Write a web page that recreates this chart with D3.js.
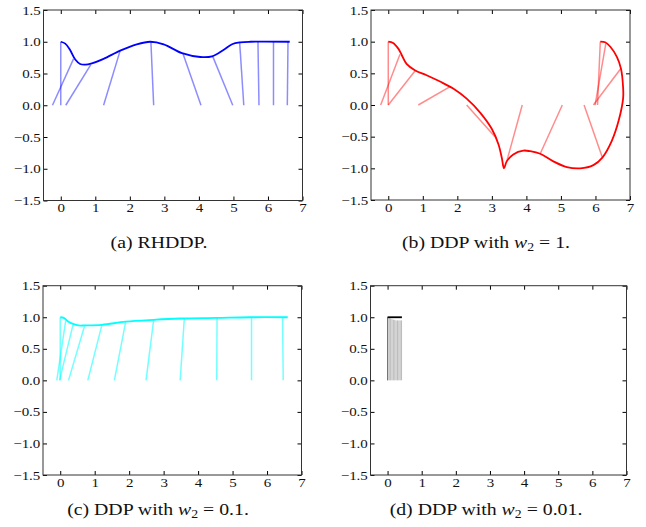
<!DOCTYPE html>
<html>
<head>
<meta charset="utf-8">
<script src="https://cdn.jsdelivr.net/npm/d3@7"></script>
<style>
	body { margin: 0; background: #fff; }
	svg { display: block; }
	text { font-family: "Liberation Serif", "Times New Roman", serif; fill: #111; }
</style>
</head>
<body>
<svg width="646" height="527"></svg>
<script>
// tick values
var xTicks = [0, 1, 2, 3, 4, 5, 6, 7];
var yTicks = [-1.5, -1.0, -0.5, 0.0, 0.5, 1.0, 1.5];

// (a) RHDDP: tip trajectory and rods [baseX, tipX, tipY]
var curveA = [[0,1.0],[0.13,0.97],[0.27,0.87],[0.42,0.72],[0.56,0.65],[0.71,0.64],[0.90,0.66],[1.24,0.73],
	[1.72,0.86],[2.20,0.96],[2.59,1.0],[2.98,0.96],[3.51,0.82],[4.04,0.76],[4.38,0.77],[4.71,0.87],
	[4.96,0.96],[5.20,0.99],[5.49,1.0],[6.63,1.0]];
var rodsA = [[-0.24,0.37,0.73],[0,0,1.0],[0.145,0.87,0.64],[1.24,1.72,0.86],[2.69,2.61,1.0],[4.06,3.54,0.81],
	[4.98,4.40,0.77],[5.30,5.18,0.99],[5.74,5.71,1.0],[6.16,6.16,1.0],[6.56,6.58,1.0]];

// (b) DDP w2 = 1
var curveB = [[0,1.0],[0.14,0.98],[0.29,0.89],[0.39,0.79],[0.53,0.65],[0.77,0.55],[1.11,0.47],[1.50,0.37],
	[1.88,0.26],[2.27,0.10],[2.66,-0.12],[3.0,-0.38],[3.19,-0.62],[3.29,-0.84],[3.35,-1.0],[3.43,-0.89],
	[3.62,-0.78],[3.91,-0.72],[4.11,-0.73],[4.40,-0.77],[4.78,-0.89],[5.17,-0.98],[5.56,-1.0],[5.94,-0.95],
	[6.20,-0.83],[6.47,-0.57],[6.67,-0.25],[6.80,0.10],[6.80,0.28],[6.74,0.57],[6.62,0.76],[6.43,0.92],
	[6.28,0.99],[6.14,1.0]];
var rodsB = [[0,0,1.0],[-0.22,0.34,0.80],[0,0.79,0.55],[0.87,1.79,0.29],[2.27,3.09,-0.50],[3.88,3.43,-0.89],
	[5.04,4.40,-0.77],[5.67,6.20,-0.83],[5.94,6.74,0.58],[5.99,6.30,0.97],[6.06,6.14,1.0]];

// (c) DDP w2 = 0.1
var curveC = [[0,1.0],[0.10,0.99],[0.24,0.93],[0.39,0.89],[0.53,0.87],[0.71,0.87],[1.21,0.88],[1.90,0.93],
	[2.71,0.96],[3.48,0.98],[4.54,0.99],[5.5,1.0],[6.6,1.0]];
var rodsC = [[0,0,1.0],[-0.10,0.16,0.95],[-0.02,0.37,0.88],[0.24,0.71,0.87],[0.80,1.21,0.88],[1.57,1.90,0.93],
	[2.49,2.71,0.96],[3.48,3.60,0.98],[4.54,4.55,1.0],[5.55,5.55,1.0],[6.47,6.45,1.0]];

// (d) DDP w2 = 0.01
var curveD = [[0,1.0],[0.42,1.0]];
var rodsD = [[0,0,1.0],[0,0,1.0],[0.01,0.01,1.0],[0.05,0.05,1.0],[0.09,0.09,0.98],[0.13,0.13,0.97],[0.17,0.17,0.96],
	[0.21,0.21,0.96],[0.25,0.25,0.95],[0.29,0.29,0.95],[0.33,0.33,0.95],[0.37,0.37,0.95],[0.41,0.41,0.95]];

var panels = [
	{curve: curveA, rods: rodsA, color: '#0000ff', rodOp: 0.45, rodW: 1.5, x0: 43.5, x1: 302.5, y0: 200.5, y1: 10},
	{curve: curveB, rods: rodsB, color: '#ff0000', rodOp: 0.45, rodW: 1.5, x0: 371, x1: 630, y0: 200, y1: 10},
	{curve: curveC, rods: rodsC, color: '#00ffff', rodOp: 0.55, rodW: 1.5, x0: 43, x1: 301.5, y0: 475, y1: 285.7},
	{curve: curveD, rods: rodsD, color: '#000000', rodOp: 0.35, rodW: 0.8, x0: 370.5, x1: 626.5, y0: 475, y1: 285.7}
];

var stretch = 'scale(1.2,1)';
var serif = '"Liberation Serif", "Times New Roman", serif';
var svg = d3.select('svg');

var fmt = function(v){ return v < 0 ? '\u2212' + Math.abs(v).toFixed(1) : v.toFixed(1); };

panels.forEach(function(p){
	var x = d3.scaleLinear().domain([-0.5, 7]).range([p.x0, p.x1]);
	var y = d3.scaleLinear().domain([-1.5, 1.5]).range([p.y0, p.y1]);
	var g = svg.append('g');

	// rods
	g.selectAll('line.rod').data(p.rods).enter().append('line')
		.attr('x1', function(d){ return x(d[0]); })
		.attr('y1', y(0))
		.attr('x2', function(d){ return x(d[1]); })
		.attr('y2', function(d){ return y(d[2]); })
		.attr('stroke', p.color)
		.attr('stroke-opacity', p.rodOp)
		.attr('stroke-width', p.rodW);

	// tip trajectory
	var line = d3.line()
		.x(function(d){ return x(d[0]); })
		.y(function(d){ return y(d[1]); })
		.curve(d3.curveCatmullRom.alpha(0.5));
	g.append('path').datum(p.curve)
		.attr('d', line)
		.attr('fill', 'none')
		.attr('stroke', p.color)
		.attr('stroke-width', 1.8);

	// axes, ticks pointing inwards
	var ax = g.append('g').attr('transform', 'translate(0,' + p.y0 + ')')
		.call(d3.axisBottom(x).tickValues(xTicks).tickSizeInner(-4).tickSizeOuter(0).tickPadding(3).tickFormat(d3.format('d')));
	var ay = g.append('g').attr('transform', 'translate(' + p.x0 + ',0)')
		.call(d3.axisLeft(y).tickValues(yTicks).tickSizeInner(-4).tickSizeOuter(0).tickPadding(2.2).tickFormat(fmt));
	g.append('g').attr('transform', 'translate(0,' + p.y1 + ')')
		.call(d3.axisTop(x).tickValues(xTicks).tickSizeInner(-4).tickSizeOuter(0).tickFormat(''));
	g.append('g').attr('transform', 'translate(' + p.x1 + ',0)')
		.call(d3.axisRight(y).tickValues(yTicks).tickSizeInner(-4).tickSizeOuter(0).tickFormat(''));
	g.selectAll('.domain').remove();
	g.selectAll('.tick line').attr('stroke', '#000');
	[ax, ay].forEach(function(a){
		a.attr('font-family', serif).attr('font-size', 12.5);
		a.selectAll('text').attr('fill', '#111').attr('transform', stretch);
	});

	// frame
	g.append('rect')
		.attr('x', p.x0).attr('y', p.y1)
		.attr('width', p.x1 - p.x0).attr('height', p.y0 - p.y1)
		.attr('fill', 'none').attr('stroke', '#333').attr('stroke-width', 1);
});

// captions
var captions = [
	{cx: 159, cy: 247.5, label: '(a) RHDDP.', w: null},
	{cx: 486, cy: 247.5, label: '(b) DDP with ', w: '1.'},
	{cx: 158, cy: 514.5, label: '(c) DDP with ', w: '0.1.'},
	{cx: 486, cy: 514.5, label: '(d) DDP with ', w: '0.01.'}
];
captions.forEach(function(c){
	var t = svg.append('text')
		.attr('text-anchor', 'middle')
		.attr('font-size', 16.5)
		.attr('transform', 'translate(' + c.cx + ',' + c.cy + ') ' + stretch);
	t.append('tspan').text(c.label);
	if (c.w) {
		t.append('tspan').attr('font-style', 'italic').text('w');
		t.append('tspan').attr('font-size', 11.5).attr('dy', 3).text('2');
		t.append('tspan').attr('dy', -3).text(' = ' + c.w);
	}
});
</script>
</body>
</html>
